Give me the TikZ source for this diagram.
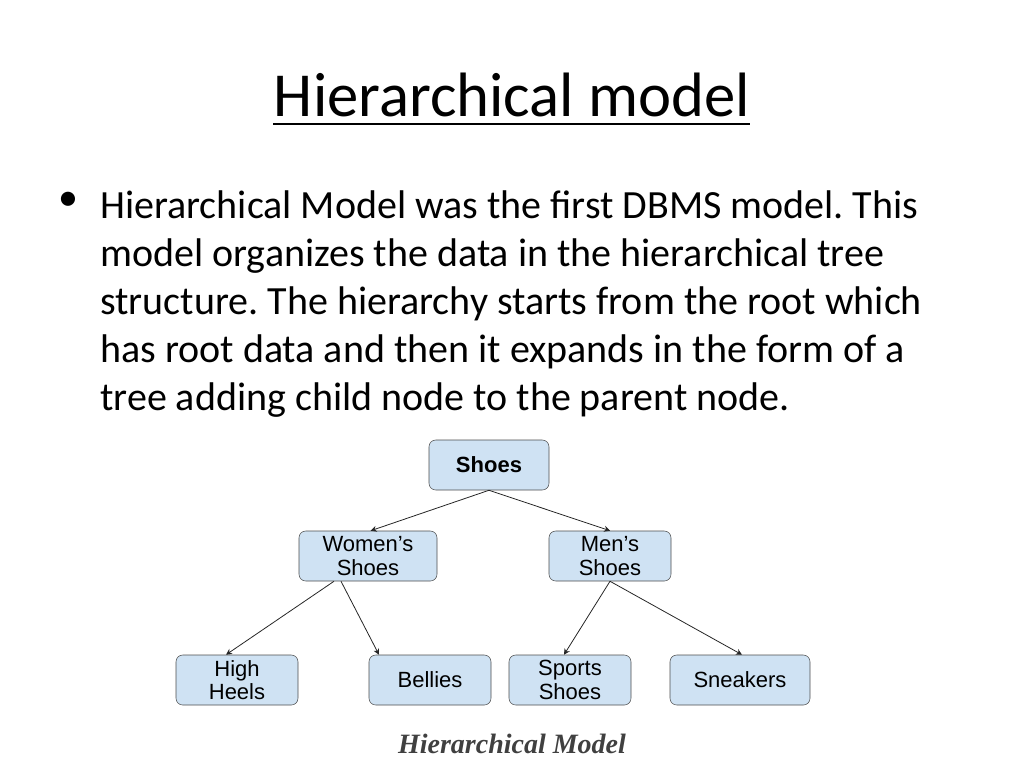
\documentclass[tikz,border=0pt]{standalone}
\usepackage{fontspec}
\setmainfont{Carlito}
\newfontfamily\arialfont{Liberation Sans}
\newfontfamily\capfont{Liberation Serif}
\usetikzlibrary{arrows.meta,positioning}
\tikzset{
  box/.style={draw=black!70,fill=boxblue,rounded corners=5pt,
    minimum width=122*0.75pt,minimum height=50*0.75pt,align=center,
    font=\arialfont\fontsize{16.5}{17.5}\selectfont,inner sep=1pt},
  link/.style={-{Stealth[length=4.5pt,width=4.5pt]},black!85,semithick}
}
\definecolor{boxblue}{HTML}{CFE2F3}
\frenchspacing
\begin{document}
\begin{tikzpicture}[x=0.75pt,y=-0.75pt]
  \useasboundingbox (0,0) rectangle (1024,768);
  % title
  \node[font=\fontsize{47}{50}\selectfont] (title) at (512,95) {Hierarchical model};
  \draw[line width=1.5pt] (273,124) -- (750,124);
  % text
  \node[anchor=north west,inner sep=0pt,font=\fontsize{30}{36}\selectfont] (bul) at (58,192) {\textbullet};
  \node[anchor=north west,align=left,inner sep=0pt,font=\fontsize{30}{36}\selectfont] (body) at (100,190)
    {Hierarchical Model was the first DBMS model. This\\
     model organizes the data in the hierarchical tree\\
     structure. The hierarchy starts from the root which\\
     has root data and then it expands in the form of a\\
     tree adding child node to the parent node.};
  % tree
  \node[box,minimum width=120*0.75pt,font=\arialfont\bfseries\fontsize{16.5}{17.5}\selectfont] (shoes) at (489,465) {Shoes};
  \node[box,minimum width=138*0.75pt] (women) at (368,556) {Women’s\\Shoes};
  \node[box] (men) at (610,556) {Men’s\\Shoes};
  \node[box] (heels) at (237,680) {High\\Heels};
  \node[box] (bellies) at (430,680) {Bellies};
  \node[box] (sports) at (570,680) {Sports\\Shoes};
  \node[box,minimum width=140*0.75pt] (sneak) at (740,680) {Sneakers};
  \draw[link] (shoes.south) -- ([xshift=2pt]women.north);
  \draw[link] (shoes.south) -- (men.north);
  \draw[link] ([xshift=-34*0.75pt]women.south) -- ([xshift=-11*0.75pt]heels.north);
  \draw[link] ([xshift=-27*0.75pt]women.south) -- ([xshift=-51*0.75pt]bellies.north);
  \draw[link] (men.south) -- ([xshift=-6*0.75pt]sports.north);
  \draw[link] (men.south) -- ([xshift=2*0.75pt]sneak.north);
  \node[font=\capfont\bfseries\itshape\fontsize{21}{22}\selectfont,text=black!75] (cap) at (512,744) {Hierarchical Model};
\end{tikzpicture}
\end{document}
